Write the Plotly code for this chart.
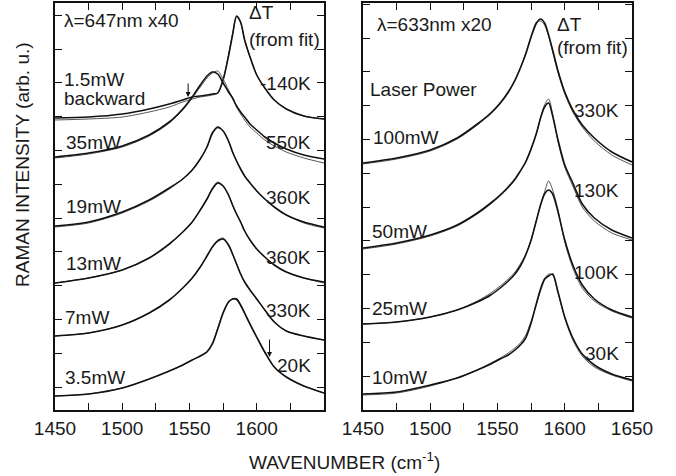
import plotly.graph_objects as go

# ---------------- data ----------------
# common wavenumber grid (cm^-1)
wn = [1450, 1475, 1500, 1520, 1535, 1545, 1552, 1558, 1563, 1567, 1571, 1575,
      1579, 1582, 1585, 1588, 1591, 1595, 1600, 1606, 1613, 1622, 1635, 1650]

# left panel, lambda = 647 nm (intensity, arb. u., offset curves)
p647_1p5_data = [292, 293, 296, 301, 306, 310, 313, 314, 315, 316, 317, 330, 354, 375, 394, 388, 370, 353, 335, 322, 310, 301, 294, 291]
p647_1p5_fit = [290, 291, 293, 298, 303, 308, 311, 313, 314, 315, 317, 331, 355, 376, 393, 387, 370, 353, 335, 322, 310, 301, 294, 291]
p647_35_data = [253, 257, 264, 275, 288, 301, 313, 325, 334, 338, 336, 327, 318, 312, 304, 298, 293, 286, 280, 273, 267, 261, 255, 251]
p647_35_fit = [252, 256, 263, 274, 287, 300, 312, 323, 332, 337, 339, 331, 320, 312, 303, 296, 290, 283, 277, 270, 264, 258, 252, 247]
p647_19_data = [184, 188, 198, 210, 222, 231, 240, 251, 263, 277, 283, 279, 269, 258, 249, 241, 234, 227, 219, 211, 203, 195, 188, 183]
p647_19_fit = [183, 187, 197, 209, 221, 231, 240, 251, 263, 276, 282, 279, 269, 258, 249, 241, 234, 227, 219, 211, 203, 195, 187, 182]
p647_13_data = [127, 132, 140, 152, 166, 178, 188, 200, 211, 221, 227, 224, 215, 205, 196, 188, 179, 170, 161, 153, 145, 138, 132, 128]
p647_13_fit = [127, 132, 140, 152, 166, 178, 188, 200, 211, 222, 228, 224, 215, 205, 196, 188, 179, 170, 161, 153, 145, 138, 132, 127]
p647_7_data = [74, 77, 85, 97, 110, 122, 132, 143, 154, 163, 169, 171, 165, 156, 146, 136, 128, 120, 111, 100, 88, 79, 74, 70]
p647_7_fit = [74, 77, 85, 97, 110, 122, 132, 143, 154, 163, 170, 172, 165, 156, 146, 136, 128, 120, 111, 100, 88, 79, 74, 70]
p647_3p5_data = [14, 16, 22, 31, 39, 45, 50, 54, 58, 66, 81, 97, 108, 111, 111, 105, 97, 86, 73, 58, 43, 33, 24, 17]
p647_3p5_fit = [14, 16, 22, 31, 39, 45, 50, 54, 59, 67, 82, 98, 108, 111, 110, 104, 96, 85, 72, 57, 43, 33, 24, 17]

# right panel, lambda = 633 nm
p633_100_data = [247, 252, 260, 272, 286, 297, 307, 318, 330, 342, 356, 373, 387, 391, 387, 375, 360, 339, 318, 300, 285, 272, 258, 248]
p633_100_fit = [246, 251, 259, 271, 285, 296, 306, 317, 329, 342, 357, 374, 388, 389, 385, 374, 358, 337, 316, 298, 283, 269, 255, 245]
p633_50_data = [162, 167, 175, 185, 197, 207, 215, 223, 231, 239, 248, 261, 277, 292, 303, 307, 294, 270, 245, 227, 206, 192, 180, 172]
p633_50_fit = [161, 166, 174, 184, 196, 206, 214, 222, 230, 239, 249, 262, 277, 292, 305, 311, 296, 268, 243, 224, 203, 189, 177, 170]
p633_25_data = [86, 88, 93, 100, 108, 115, 122, 129, 136, 144, 155, 170, 190, 205, 216, 220, 216, 198, 170, 145, 125, 111, 100, 93]
p633_25_fit = [86, 88, 93, 100, 109, 117, 124, 131, 138, 146, 156, 170, 190, 205, 218, 229, 220, 200, 168, 142, 122, 109, 99, 92]
p633_10_data = [16, 18, 25, 32, 40, 46, 51, 55, 60, 65, 72, 87, 107, 121, 131, 134, 136, 118, 93, 72, 56, 45, 36, 30]
p633_10_fit = [15, 17, 24, 32, 40, 47, 52, 57, 62, 67, 75, 89, 106, 119, 130, 136, 135, 117, 92, 70, 54, 43, 35, 29]

left_labels = ["1.5mW backward", "35mW", "19mW", "13mW", "7mW", "3.5mW"]
left_data = [p647_1p5_data, p647_35_data, p647_19_data, p647_13_data, p647_7_data, p647_3p5_data]
left_fit = [p647_1p5_fit, p647_35_fit, p647_19_fit, p647_13_fit, p647_7_fit, p647_3p5_fit]
right_labels = ["100mW", "50mW", "25mW", "10mW"]
right_data = [p633_100_data, p633_50_data, p633_25_data, p633_10_data]
right_fit = [p633_100_fit, p633_50_fit, p633_25_fit, p633_10_fit]

x_ticks = [1450, 1475, 1500, 1525, 1550, 1575, 1600, 1625, 1650]
x_text_left = ["1450", "", "1500", "", "1550", "", "1600", "", ""]
x_text_right = ["1450", "", "1500", "", "1550", "", "1600", "", "1650"]

# ---------------- figure ----------------
W, H = 676, 476
fig = go.Figure()

def add_panel(datas, fits, names, xa, ya):
    for d, f, n in zip(datas, fits, names):
        fig.add_trace(go.Scatter(x=wn, y=f, mode="lines", name=n + " fit",
                                 line=dict(color="#555555", width=1, shape="spline", smoothing=0.8),
                                 xaxis=xa, yaxis=ya, showlegend=False, hoverinfo="skip"))
        fig.add_trace(go.Scatter(x=wn, y=d, mode="lines", name=n,
                                 line=dict(color="#111111", width=1.6, shape="spline", smoothing=0.8),
                                 xaxis=xa, yaxis=ya, showlegend=False))

add_panel(left_data, left_fit, left_labels, "x", "y")
add_panel(right_data, right_fit, right_labels, "x2", "y2")

ydom = [1 - 410 / H, 1 - 3 / H]
axis_common = dict(showline=True, linewidth=1.5, linecolor="#111", mirror="allticks",
                   ticks="inside", ticklen=7, tickwidth=1.3, tickcolor="#111",
                   showgrid=False, zeroline=False, automargin=False)

fig.update_layout(
    width=W, height=H, autosize=False,
    margin=dict(l=0, r=0, t=0, b=0, pad=0, autoexpand=False),
    paper_bgcolor="white", plot_bgcolor="white",
    font=dict(family="Liberation Sans, Arial, sans-serif", size=19, color="#1a1a1a"),
    xaxis=dict(domain=[55 / W, 324 / W], range=[1450, 1650], anchor="y",
               tickmode="array", tickvals=x_ticks, ticktext=x_text_left,
               tickfont=dict(size=19), ticklabelstandoff=0, **axis_common),
    yaxis=dict(domain=ydom, range=[0, 407], anchor="x", tickmode="linear",
               tick0=23, dtick=33.8, showticklabels=False, **axis_common),
    xaxis2=dict(domain=[363 / W, 632 / W], range=[1450, 1650], anchor="y2",
                tickmode="array", tickvals=x_ticks, ticktext=x_text_right,
                tickfont=dict(size=19), ticklabelstandoff=0, **axis_common),
    yaxis2=dict(domain=ydom, range=[0, 407], anchor="x2", tickmode="linear",
                tick0=34, dtick=33.8, showticklabels=False, **axis_common),
)

def txt(x, y, s, xa, ya, anchor="left"):
    return dict(x=x, y=y, xref=xa, yref=ya, text=s, showarrow=False,
                xanchor=anchor, yanchor="middle", font=dict(size=19))

ann = [
    txt(1455.2, 389, "λ=647nm x40", "x", "y"),
    txt(1593.0, 397, "ΔT", "x", "y"),
    txt(1592.5, 370, "(from fit)", "x", "y"),
    txt(1455.2, 330, "1.5mW", "x", "y"),
    txt(1455.2, 311, "backward", "x", "y"),
    txt(1642.0, 326, "-140K", "x", "y", "right"),
    txt(1457.0, 268, "35mW", "x", "y"),
    txt(1642.0, 268, "550K", "x", "y", "right"),
    txt(1457.0, 204, "19mW", "x", "y"),
    txt(1642.0, 213, "360K", "x", "y", "right"),
    txt(1457.0, 147, "13mW", "x", "y"),
    txt(1642.0, 153, "360K", "x", "y", "right"),
    txt(1456.0, 93, "7mW", "x", "y"),
    txt(1642.0, 100, "330K", "x", "y", "right"),
    txt(1642.0, 45, "20K", "x", "y", "right"),
    txt(1456.0, 33, "3.5mW", "x", "y"),
    txt(1458.9, 385, "λ=633nm x20", "x2", "y2"),
    txt(1593.0, 385, "ΔT", "x2", "y2"),
    txt(1593.0, 362, "(from fit)", "x2", "y2"),
    txt(1453.7, 320, "Laser Power", "x2", "y2"),
    txt(1642.0, 299, "330K", "x2", "y2", "right"),
    txt(1456.0, 273, "100mW", "x2", "y2"),
    txt(1642.0, 220, "130K", "x2", "y2", "right"),
    txt(1455.2, 179, "50mW", "x2", "y2"),
    txt(1642.0, 138, "100K", "x2", "y2", "right"),
    txt(1455.2, 102, "25mW", "x2", "y2"),
    txt(1642.0, 57, "30K", "x2", "y2", "right"),
    txt(1455.2, 33, "10mW", "x2", "y2"),
    # arrows
    dict(x=1549, y=313, ax=1549, ay=328, xref="x", yref="y", axref="x", ayref="y",
         showarrow=True, arrowhead=2, arrowsize=1, arrowwidth=1, arrowcolor="#111", text=""),
    dict(x=1609.5, y=53, ax=1609.5, ay=72, xref="x", yref="y", axref="x", ayref="y",
         showarrow=True, arrowhead=2, arrowsize=1, arrowwidth=1, arrowcolor="#111", text=""),
    # axis titles
    dict(x=344 / W, y=1 - 461 / H, xref="paper", yref="paper", text="WAVENUMBER (cm<sup>-1</sup>)",
         showarrow=False, xanchor="center", yanchor="middle", font=dict(size=19)),
    dict(x=22 / W, y=1 - 165 / H, xref="paper", yref="paper", text="RAMAN INTENSITY (arb. u.)",
         showarrow=False, xanchor="center", yanchor="middle", textangle=-90, font=dict(size=19)),
]
fig.update_layout(annotations=ann)

fig.write_html("out.html", config={"responsive": False, "displayModeBar": False},
               post_script="document.body.style.margin='0';document.body.style.overflow='hidden';")
